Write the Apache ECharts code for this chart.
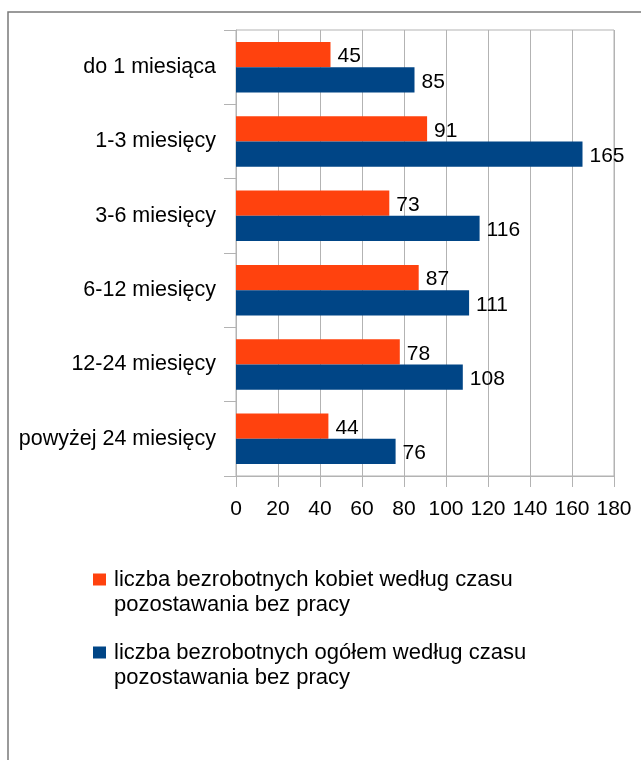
<!DOCTYPE html>
<html>
<head>
<meta charset="utf-8">
<script src="https://cdn.jsdelivr.net/npm/echarts@6/dist/echarts.min.js"></script>
<style>
html,body{margin:0;padding:0;background:#fff;}
#chart{width:641px;height:760px;}
</style>
</head>
<body>
<div id="chart"></div>
<script>
const categories = ['do 1 miesiąca', '1-3 miesięcy', '3-6 miesięcy', '6-12 miesięcy', '12-24 miesięcy', 'powyżej 24 miesięcy'];
const seriesNames = ['liczba bezrobotnych kobiet według czasu pozostawania bez pracy', 'liczba bezrobotnych ogółem według czasu pozostawania bez pracy'];
const legendLines = {
  'liczba bezrobotnych kobiet według czasu pozostawania bez pracy': ['liczba bezrobotnych kobiet według czasu', 'pozostawania bez pracy'],
  'liczba bezrobotnych ogółem według czasu pozostawania bez pracy': ['liczba bezrobotnych ogółem według czasu', 'pozostawania bez pracy']
};
const women = [45, 91, 73, 87, 78, 44];
const total = [85, 165, 116, 111, 108, 76];
const xTicks = {min: 0, max: 180, interval: 20};

const FONT = '"Liberation Sans", Arial, sans-serif';
const chart = echarts.init(document.getElementById('chart'), null, {renderer: 'canvas'});
const labelCfg = {show: true, position: 'right', distance: 7, offset: [0, 2], fontSize: 21, color: '#000', fontFamily: FONT};
chart.setOption({
  backgroundColor: '#fff',
  animation: false,
  textStyle: {fontFamily: FONT},
  graphic: [{
    type: 'rect', silent: true, z: -10,
    shape: {x: 8, y: 12, width: 700, height: 800},
    style: {fill: 'none', stroke: '#7a7a7a', lineWidth: 1.5}
  }],
  grid: {left: 236, right: 27, top: 30, bottom: 284, show: true, borderColor: '#b3b3b3', borderWidth: 1, containLabel: false},
  legend: {
    orient: 'vertical', left: 93, top: 542, itemGap: -2, padding: 0,
    itemWidth: 13, itemHeight: 12, icon: 'rect',
    data: seriesNames,
    formatter: n => '\n' + legendLines[n].join('\n'),
    textStyle: {fontSize: 22, lineHeight: 25, color: '#000', fontFamily: FONT, padding: [0, 0, 0, 3]}
  },
  xAxis: {
    type: 'value', min: xTicks.min, max: xTicks.max, interval: xTicks.interval,
    axisLine: {show: true, lineStyle: {color: '#b3b3b3'}},
    axisTick: {show: true, length: 11, lineStyle: {color: '#b3b3b3'}},
    splitLine: {show: true, lineStyle: {color: '#b3b3b3'}},
    axisLabel: {fontSize: 21, color: '#000', margin: 23, fontFamily: FONT}
  },
  yAxis: {
    type: 'category', inverse: true, data: categories,
    axisLine: {show: true, lineStyle: {color: '#b3b3b3'}},
    axisTick: {show: true, length: 12, lineStyle: {color: '#b3b3b3'}},
    axisLabel: {fontSize: 21.5, color: '#000', margin: 20, fontFamily: FONT}
  },
  series: [
    {name: seriesNames[0], type: 'bar', data: women, itemStyle: {color: '#ff420e'}, barGap: '0%', barCategoryGap: '32%', label: labelCfg},
    {name: seriesNames[1], type: 'bar', data: total, itemStyle: {color: '#004586'}, barGap: '0%', barCategoryGap: '32%', label: labelCfg}
  ]
});
</script>
</body>
</html>
